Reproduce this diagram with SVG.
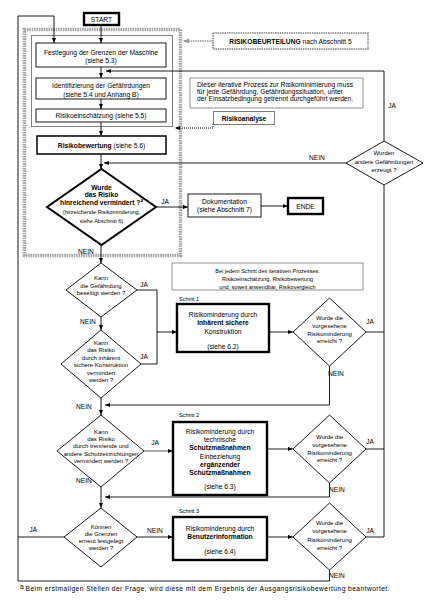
<svg xmlns="http://www.w3.org/2000/svg" width="442" height="600" viewBox="0 0 442 600">
<style>
text{font-family:"Liberation Sans",Arial,sans-serif;font-size:6.7px;fill:#000;text-anchor:middle}
.b{font-weight:bold}
.l{text-anchor:start}
.s{font-size:6px}
.xs{font-size:5.5px}
.lab{font-size:6.6px}
.box{fill:#fff;stroke:#000;stroke-width:0.9}
.thick{fill:#fff;stroke:#000;stroke-width:2.4}
.med{fill:#fff;stroke:#000;stroke-width:1.5}
.info{fill:#fff;stroke:#777;stroke-width:0.8}
.dia{fill:#fff;stroke:#000;stroke-width:0.9}
.c{fill:none;stroke:#000;stroke-width:0.9}
.dot{fill:none;stroke:#000;stroke-width:1;stroke-dasharray:1 1}
</style>
<defs>
<marker id="ah" viewBox="0 0 10 10" refX="10" refY="5" markerWidth="5" markerHeight="5" markerUnits="userSpaceOnUse" orient="auto"><path d="M0,1 L10,5 L0,9 z" fill="#000"/></marker>
<marker id="ahg" viewBox="0 0 10 10" refX="10" refY="5" markerWidth="6" markerHeight="6" markerUnits="userSpaceOnUse" orient="auto"><path d="M0,1 L10,5 L0,9 z" fill="#999"/></marker>
</defs>
<rect width="442" height="600" fill="#fff"/>

<g id="frame-risikobeurteilung">
<rect x="24.5" y="29.5" width="156" height="226" fill="none" stroke="#a6a6a6" stroke-width="3.5" stroke-dasharray="1.6 0.8"/>
</g>
<g id="frame-risikoanalyse">
<rect x="31.5" y="35.5" width="141" height="91" class="dot"/>
</g>

<g id="connectors">
<path class="c" d="M101,25 V43" marker-end="url(#ah)"/>
<path class="c" d="M101,67 V78" marker-end="url(#ah)"/>
<path class="c" d="M101,99 V109" marker-end="url(#ah)"/>
<path class="c" d="M101,122 V136" marker-end="url(#ah)"/>
<path class="c" d="M101,154 V169" marker-end="url(#ah)"/>
<path class="c" d="M156,207 H188" marker-end="url(#ah)"/>
<path class="c" d="M261,206 H288" marker-end="url(#ah)"/>
<path class="c" d="M101,245 V263" marker-end="url(#ah)"/>
<path class="c" d="M101,317 V330" marker-end="url(#ah)"/>
<path class="c" d="M101,398 V415" marker-end="url(#ah)"/>
<path class="c" d="M101,487 V508" marker-end="url(#ah)"/>
<path class="c" d="M137,290 H157 V364 H141"/>
<path class="c" d="M157,332 H177" marker-end="url(#ah)"/>
<path d="M144,451 H173" fill="none" stroke="#555" stroke-width="1" marker-end="url(#ah)"/>
<path class="c" d="M137,537 H173" marker-end="url(#ah)"/>
<path class="c" d="M269,332 H293" marker-end="url(#ah)"/>
<path class="c" d="M267,449 H293" marker-end="url(#ah)"/>
<path class="c" d="M267,537 H293" marker-end="url(#ah)"/>
<path class="c" d="M366,332 H384"/>
<path class="c" d="M366,449 H384"/>
<path class="c" d="M366,537 H384 V185"/>
<path class="c" d="M384,141 V71 H106" marker-end="url(#ah)"/>
<path class="c" d="M346,163 H104" marker-end="url(#ah)"/>
<path class="c" d="M329.5,366 V405 H105" marker-end="url(#ah)"/>
<path class="c" d="M329.5,483 V497 H105" marker-end="url(#ah)"/>
<path class="c" d="M64,537 H18"/>
<path class="c" d="M329.5,570 V581 H18 V16 H54 V43" marker-end="url(#ah)"/>
<path d="M213,41 H183" fill="none" stroke="#999" stroke-width="1.6" stroke-dasharray="1.5 0.8" marker-end="url(#ahg)"/>
<path class="dot" d="M213,124 V128 H175" marker-end="url(#ah)"/>
<text class="lab" x="165" y="204">JA</text>
<text class="lab" x="86" y="253.5">NEIN</text>
<text class="lab" x="317" y="160">NEIN</text>
<text class="lab" x="392" y="108">JA</text>
<text class="lab" x="144" y="287">JA</text>
<text class="lab" x="88" y="324">NEIN</text>
<text class="lab" x="144" y="359">JA</text>
<text class="lab" x="370" y="324">JA</text>
<text class="lab" x="336" y="376">NEIN</text>
<text class="lab" x="84" y="409">NEIN</text>
<text class="lab" x="155" y="445">JA</text>
<text class="lab" x="370" y="444">JA</text>
<text class="lab" x="337" y="492">NEIN</text>
<text class="lab" x="84" y="483">NEIN</text>
<text class="lab" x="33" y="532">JA</text>
<text class="lab" x="155" y="533">NEIN</text>
<text class="lab" x="370" y="533">JA</text>
<text class="lab" x="337" y="578">NEIN</text>
</g>

<g id="start">
<rect x="84" y="13" width="35" height="12" class="thick" stroke-width="2"/>
<text x="101.5" y="21.5">START</text>
</g>
<g id="festlegung">
<rect x="36" y="43" width="130" height="24" class="box"/>
<text x="101" y="54.5">Festlegung der Grenzen der Maschine</text>
<text x="101" y="63">(siehe 5.3)</text>
</g>
<g id="identifizierung">
<rect x="36" y="78" width="130" height="21" class="box"/>
<text x="101" y="88">Identifizierung der Gefährdungen</text>
<text x="101" y="96.5">(siehe 5.4 und Anhang B)</text>
</g>
<g id="risikoeinschaetzung">
<rect x="36" y="109" width="130" height="13" class="box"/>
<text x="101" y="118">Risikoeinschätzung (siehe 5.5)</text>
</g>
<g id="risikobewertung">
<rect x="37" y="136" width="129" height="18" class="med"/>
<text x="101.5" y="147.5"><tspan class="b">Risikobewertung</tspan> (siehe 5.6)</text>
</g>
<g id="risikobeurteilung-label">
<rect x="213" y="33" width="155" height="16" fill="#fff" stroke="#a0a0a0" stroke-width="2" stroke-dasharray="1.5 0.8"/>
<text x="290.5" y="43.5"><tspan class="b">RISIKOBEURTEILUNG</tspan> nach Abschnitt 5</text>
</g>
<g id="risikoanalyse-label">
<rect x="213.5" y="111.5" width="61" height="13" fill="#fff" stroke="#000" stroke-width="1" stroke-dasharray="1 1"/>
<text class="b" x="244" y="120.5">Risikoanalyse</text>
</g>
<g id="hinweis-iterativ">
<rect x="190" y="78" width="173" height="30" class="info"/>
<text class="l" x="197" y="87">Dieser iterative Prozess zur Risikominimierung muss</text>
<text class="l" x="197" y="94">für jede Gefährdung, Gefährdungssituation, unter</text>
<text class="l" x="197" y="101">der Einsatzbedingung getrennt durchgeführt werden.</text>
</g>
<g id="andere-gefaehrdungen">
<polygon points="384,141 423,163 384,185 346,163" class="dia"/>
<text class="s" x="384" y="155">Wurden</text>
<text class="s" x="384" y="164">andere Gefährdungen</text>
<text class="s" x="384" y="172">erzeugt ?</text>
</g>
<g id="risiko-vermindert">
<polygon points="101.5,169 156,207 101.5,245 47,207" fill="#fff" stroke="#000" stroke-width="2"/>
<text class="b" x="101.5" y="189.5">Wurde</text>
<text class="b" x="101.5" y="197">das Risiko</text>
<text class="b" x="101.5" y="204.5">hinreichend vermindert ?<tspan font-size="4.5" dy="-2.5">a</tspan></text>
<text class="xs" x="101.5" y="213.5">(hinreichende Risikominderung,</text>
<text class="xs" x="101.5" y="223">siehe Abschnitt 6)</text>
</g>
<g id="dokumentation">
<rect x="188" y="194" width="73" height="23" class="box"/>
<text x="224.5" y="203.5">Dokumentation</text>
<text x="224.5" y="211.5">(siehe Abschnitt 7)</text>
</g>
<g id="ende">
<rect x="288" y="198" width="35" height="16" class="thick" stroke-width="2"/>
<text x="305.5" y="208.5">ENDE</text>
</g>
<g id="gefaehrdung-beseitigt">
<polygon points="101,263 137,290 101,317 66,290" class="dia"/>
<text class="s" x="101" y="280">Kann</text>
<text class="s" x="101" y="287.5">die Gefährdung</text>
<text class="s" x="101" y="295">beseitigt werden ?</text>
</g>
<g id="inhaerent-vermindert">
<polygon points="101,330 141,364 101,398 61,364" class="dia"/>
<text class="s" x="101" y="345">Kann</text>
<text class="s" x="101" y="352">das Risiko</text>
<text class="s" x="101" y="359.5">durch inhärent</text>
<text class="s" x="101" y="367">sichere Konstruktion</text>
<text class="s" x="101" y="374.5">vermindert</text>
<text class="s" x="101" y="381.5">werden ?</text>
</g>
<g id="hinweis-schritt">
<rect x="172" y="263" width="191" height="27" class="info"/>
<text class="xs" x="267.5" y="272.5">Bei jedem Schritt des iterativen Prozesses:</text>
<text class="xs" x="267.5" y="280.5">Risikoeinschätzung, Risikobewertung</text>
<text class="xs" x="267.5" y="288.5">und, soweit anwendbar, Risikovergleich</text>
</g>
<g id="schritt1">
<text class="xs l" x="179" y="301">Schritt 1</text>
<rect x="177" y="304" width="92" height="48" class="thick"/>
<text x="223" y="317">Risikominderung durch</text>
<text class="b" x="223" y="325">inhärent sichere</text>
<text x="223" y="334">Konstruktion</text>
<text x="223" y="349">(siehe 6.2)</text>
</g>
<g id="pruefung1">
<polygon points="329.5,298 366,332 329.5,366 293,332" class="dia"/>
<text class="s" x="329.5" y="320">Wurde die</text>
<text class="s" x="329.5" y="328">vorgesehene</text>
<text class="s" x="329.5" y="336">Risikominderung</text>
<text class="s" x="329.5" y="343">erreicht ?</text>
</g>
<g id="schutzeinrichtungen-vermindert">
<polygon points="101,415 144,451 101,487 57,451" class="dia"/>
<text class="s" x="101" y="434">Kann</text>
<text class="s" x="101" y="440.5">das Risiko</text>
<text class="s" x="101" y="448">durch trennende und</text>
<text class="s" x="101" y="455.5">andere Schutzeinrichtungen</text>
<text class="s" x="101" y="463">vermindert werden ?</text>
</g>
<g id="schritt2">
<text class="xs l" x="179" y="417">Schritt 2</text>
<rect x="173" y="422" width="94" height="73" class="thick"/>
<text x="220" y="434">Risikominderung durch</text>
<text x="220" y="442">technische</text>
<text class="b" x="220" y="450">Schutzmaßnahmen</text>
<text x="220" y="459">Einbeziehung</text>
<text class="b" x="220" y="467">ergänzender</text>
<text class="b" x="220" y="475">Schutzmaßnahmen</text>
<text x="220" y="489">(siehe 6.3)</text>
</g>
<g id="pruefung2">
<polygon points="329.5,415 366,449 329.5,483 293,449" class="dia"/>
<text class="s" x="329.5" y="439">Wurde die</text>
<text class="s" x="329.5" y="447">vorgesehene</text>
<text class="s" x="329.5" y="454.5">Risikominderung</text>
<text class="s" x="329.5" y="462">erreicht ?</text>
</g>
<g id="grenzen-neu">
<polygon points="101,508 137,537 101,567 64,537" class="dia"/>
<text class="s" x="101" y="529">Können</text>
<text class="s" x="101" y="536">die Grenzen</text>
<text class="s" x="101" y="543">erneut festgelegt</text>
<text class="s" x="101" y="550">werden ?</text>
</g>
<g id="schritt3">
<text class="xs l" x="179" y="513">Schritt 3</text>
<rect x="173" y="517" width="94" height="43" class="thick"/>
<text x="220" y="531">Risikominderung durch</text>
<text class="b" x="220" y="539">Benutzerinformation</text>
<text x="220" y="554">(siehe 6.4)</text>
</g>
<g id="pruefung3">
<polygon points="329.5,503 366,537 329.5,570 293,537" class="dia"/>
<text class="s" x="329.5" y="525">Wurde die</text>
<text class="s" x="329.5" y="533">vorgesehene</text>
<text class="s" x="329.5" y="541.5">Risikominderung</text>
<text class="s" x="329.5" y="550">erreicht ?</text>
</g>
<g id="fussnote">
<text class="l" x="20" y="588.5" font-size="4.5">a</text>
<text class="l" x="25.5" y="591" font-size="6.8" textLength="364" lengthAdjust="spacing">Beim erstmaligen Stellen der Frage, wird diese mit dem Ergebnis der Ausgangsrisikobewertung beantwortet.</text>
</g>
</svg>
